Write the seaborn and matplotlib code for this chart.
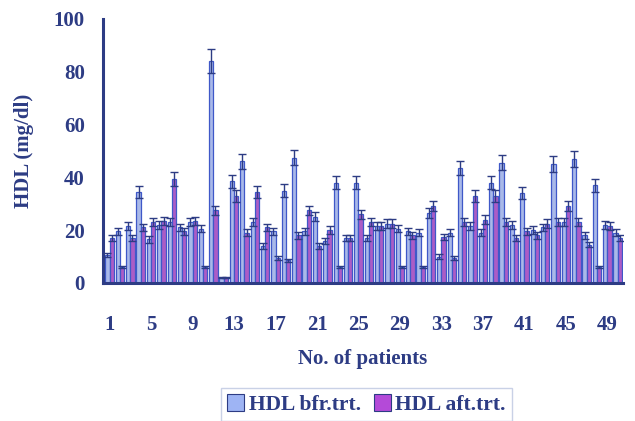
import numpy as np
import pandas as pd
import seaborn as sns
import matplotlib
matplotlib.use("Agg")
import matplotlib.pyplot as plt
from matplotlib.patches import Patch

# ---------------- data ----------------
patients = list(range(1, 51))
hdl_before = [10.5, 19.5, 21.5, 34.5, 16.5, 22, 23, 21, 23, 20.5,
              84, 2, 38.5, 46, 23, 14, 19.5, 35, 47.5, 19.5,
              25, 16, 38, 17, 38, 17, 21.5, 22.5, 20.5, 19.5,
              19, 26.5, 10, 19, 43.5, 21.5, 19, 38, 45.5, 22,
              34, 20, 21, 45, 23, 47, 18, 37, 22, 19]
hdl_after = [17, 6, 17, 21, 23, 23.5, 39.5, 19.5, 23.5, 6,
             27.5, 2, 33, 19, 34.5, 21, 9.5, 8.5, 18, 27.5,
             14, 20, 6, 17, 26, 23, 21.5, 22.5, 6, 18,
             6, 29, 17.5, 9.5, 23, 33, 24, 33, 23, 17,
             19.5, 18, 22.5, 23, 29, 23, 14.5, 6, 21.5, 17]
err_before = [0.8, 1.4, 1.5, 2.3, 1.2, 1.5, 1.6, 1.4, 1.5, 1.4,
              4.5, 0.3, 2.5, 2.8, 1.6, 1.0, 1.4, 2.3, 3.0, 1.4,
              1.7, 1.1, 2.4, 1.2, 2.4, 1.2, 1.5, 1.6, 1.4, 1.3,
              1.3, 1.8, 0.8, 1.3, 2.8, 1.5, 1.3, 2.4, 2.9, 1.5,
              2.2, 1.4, 1.5, 2.9, 1.6, 3.0, 1.3, 2.4, 1.5, 1.3]
err_after = [1.2, 0.5, 1.2, 1.5, 1.6, 1.6, 2.6, 1.4, 1.6, 0.5,
             1.8, 0.3, 2.2, 1.3, 2.3, 1.5, 0.8, 0.7, 1.3, 1.8,
             1.0, 1.4, 0.5, 1.2, 1.8, 1.6, 1.5, 1.6, 0.5, 1.3,
             0.5, 1.9, 1.2, 0.8, 1.6, 2.2, 1.6, 2.2, 1.6, 1.2,
             1.4, 1.3, 1.6, 1.6, 1.9, 1.6, 1.0, 0.5, 1.5, 1.2]
series_names = ["HDL bfr.trt.", "HDL aft.trt."]
y_ticks = [0, 20, 40, 60, 80, 100]
x_label_patients = [1, 5, 9, 13, 17, 21, 25, 29, 33, 37, 41, 45, 49]

df = pd.DataFrame({
    "patient": patients * 2,
    "hdl": hdl_before + hdl_after,
    "err": err_before + err_after,
    "series": [series_names[0]] * len(patients) + [series_names[1]] * len(patients),
})

# ---------------- style ----------------
navy = "#2d3c84"
bar_edge = "#3f58c8"
col_before = "#9eb4f4"
col_after = "#b44ad8"

sns.set_style("white")
plt.rcParams["font.family"] = ["Liberation Serif", "DejaVu Serif"]
plt.rcParams["font.weight"] = "bold"

fig = plt.figure(figsize=(6.35, 4.21), dpi=100)
ax = fig.add_axes([0.162, 0.328, 0.819, 0.627])

sns.barplot(data=df, x="patient", y="hdl", hue="series",
            order=patients, hue_order=series_names,
            palette=[col_before, col_after], errorbar=None,
            width=0.82, edgecolor=bar_edge, linewidth=0.9,
            legend=False, ax=ax)

# error bars from the drawn bar positions
for cont, name in zip(ax.containers, series_names):
    sub = df[df["series"] == name]
    xs = [p.get_x() + p.get_width() / 2 for p in cont.patches]
    hs = [p.get_height() for p in cont.patches]
    ax.errorbar(xs, hs, yerr=sub["err"].values, fmt="none",
                ecolor=navy, elinewidth=1.0, capsize=2.6, capthick=1.0,
                zorder=5)

# ---------------- axes ----------------
ax.set_ylim(0, 100)
ax.set_xlim(-0.65, len(patients) - 0.5)
ax.set_yticks(y_ticks)
ax.set_yticklabels([str(v) for v in y_ticks])
major_pos = [patients.index(p) for p in x_label_patients]
ax.set_xticks(major_pos)
ax.set_xticklabels([str(p) for p in x_label_patients])
ax.set_xticks([i - 0.5 for i in range(len(patients) + 1)], minor=True)

for side in ["top", "right"]:
    ax.spines[side].set_visible(False)
for side in ["left", "bottom"]:
    ax.spines[side].set_color(navy)
    ax.spines[side].set_linewidth(2.2)

ax.tick_params(axis="x", which="major", length=0, pad=23,
               labelsize=15, labelcolor=navy)
ax.tick_params(axis="x", which="minor", length=6, width=2.0,
               color=navy, direction="out")
ax.tick_params(axis="y", which="major", length=6, width=2.0,
               color=navy, direction="out", pad=7,
               labelsize=15, labelcolor=navy)
for lab in ax.get_xticklabels() + ax.get_yticklabels():
    lab.set_fontweight("bold")

ax.set_ylabel("HDL (mg/dl)", fontsize=15, fontweight="bold",
              color=navy, labelpad=14)
ax.set_xlabel("No. of patients", fontsize=15, fontweight="bold",
              color=navy, labelpad=10)
ax.grid(False)

handles = [Patch(facecolor=col_before, edgecolor=navy, linewidth=0.8),
           Patch(facecolor=col_after, edgecolor=navy, linewidth=0.8)]
leg = fig.legend(handles, series_names, loc="upper center",
                 bbox_to_anchor=(0.577, 0.079), borderaxespad=0,
                 ncol=2, frameon=True,
                 fancybox=False, edgecolor="#c9d1e6", framealpha=1,
                 handlelength=0.8, handleheight=0.8, handletextpad=0.2,
                 columnspacing=0.6, borderpad=0.3,
                 prop={"size": 15.5, "weight": "bold"})
for t in leg.get_texts():
    t.set_color(navy)

fig.savefig("out.png", dpi=100)
